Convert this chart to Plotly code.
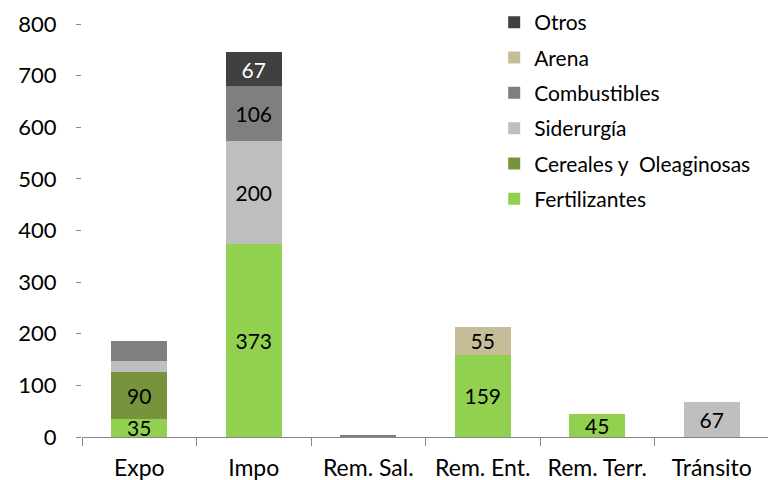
import plotly.graph_objects as go

categories = ["Expo", "Impo", "Rem. Sal.", "Rem. Ent.", "Rem. Terr.", "Tránsito"]
fertilizantes = [35, 373, 0, 159, 45, 0]
cereales = [90, 0, 0, 0, 0, 0]
siderurgia = [23, 200, 0, 0, 0, 67]
combustibles = [37, 106, 3, 0, 0, 0]
arena = [0, 0, 0, 55, 0, 0]
otros = [0, 67, 0, 0, 0, 0]

fert_labels = ["35", "373", "", "159", "45", ""]
cer_labels = ["90", "", "", "", "", ""]
sid_labels = ["", "200", "", "", "", "67"]
comb_labels = ["", "106", "", "", "", ""]
arena_labels = ["", "", "", "55", "", ""]
otros_labels = ["", "67", "", "", "", ""]

series = [
    ("Fertilizantes", fertilizantes, fert_labels, "#92D050", "black"),
    ("Cereales y  Oleaginosas", cereales, cer_labels, "#77933C", "black"),
    ("Siderurgía", siderurgia, sid_labels, "#BFBFBF", "black"),
    ("Combustibles", combustibles, comb_labels, "#7F7F7F", "black"),
    ("Arena", arena, arena_labels, "#C4BD97", "black"),
    ("Otros", otros, otros_labels, "#404040", "white"),
]

FONT = "Lato, 'Open Sans', sans-serif"

fig = go.Figure()
n = len(series)
for i, (name, vals, labels, color, tcolor) in enumerate(series):
    fig.add_trace(go.Bar(
        x=categories, y=vals, name=name,
        marker=dict(color=color, line=dict(width=0)),
        text=labels, textposition="inside", insidetextanchor="middle",
        textangle=0, constraintext="none",
        textfont=dict(color=tcolor, size=21, family=FONT),
        legendgroup=f"g{i}", legendrank=(n - i) * 10, hoverinfo="skip",
    ))

fig.update_layout(
    barmode="stack",
    bargap=0.51,
    width=768, height=472,
    margin=dict(l=74, r=7, t=16, b=43, autoexpand=False),
    plot_bgcolor="white", paper_bgcolor="white",
    font=dict(family=FONT, size=21, color="black"),
    uniformtext=dict(mode=False),
    legend=dict(
        x=0.60, xanchor="left",
        y=1.053, yanchor="top",
        traceorder="grouped", tracegroupgap=5,
        font=dict(size=21, family=FONT, color="black"),
        bgcolor="rgba(0,0,0,0)", itemwidth=30,
    ),
    showlegend=True,
)
fig.update_xaxes(
    showgrid=False, showline=True, linecolor="#868686", linewidth=1,
    ticks="outside", tickson="boundaries", ticklen=8, tickcolor="#868686",
    tickfont=dict(size=23, family=FONT), zeroline=False,
    ticklabelstandoff=10, automargin=False,
)
fig.update_yaxes(
    range=[0, 800], dtick=100, showgrid=False, showline=False, zeroline=False,
    ticks="outside", ticklen=5, tickcolor="#868686",
    tickfont=dict(size=22, family=FONT), ticklabelstandoff=15, automargin=False,
)

fig.write_html("out.html")
